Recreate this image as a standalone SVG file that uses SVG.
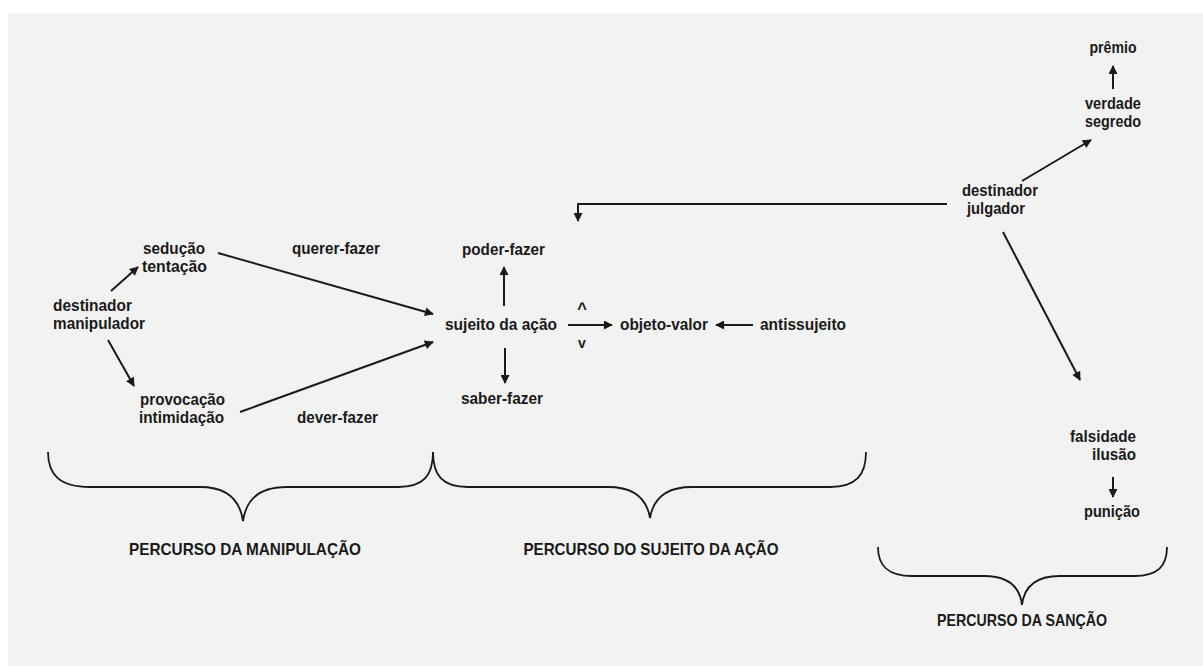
<svg xmlns="http://www.w3.org/2000/svg" width="1203" height="666" viewBox="0 0 1203 666">
<defs>
<style>
text{font-family:"Liberation Sans",Arial,sans-serif;font-weight:bold;font-size:16.5px;fill:#1a1a1a}
.c{text-anchor:middle}
.e{text-anchor:end}
.a{stroke:#1a1a1a;stroke-width:2;fill:none;marker-end:url(#ah)}
.b{stroke:#1a1a1a;stroke-width:1.8;fill:none}
</style>
<marker id="ah" viewBox="0 0 10 10" refX="9" refY="5" markerWidth="5" markerHeight="4.5" markerUnits="strokeWidth" orient="auto">
<path d="M0,0 L10,5 L0,10 z" fill="#1a1a1a"/>
</marker>
</defs>
<rect x="0" y="0" width="1203" height="666" fill="#ffffff"/>
<rect x="8" y="13" width="1195" height="653" fill="#f2f2f2"/>

<g id="connectors">
<line class="a" x1="111" y1="291" x2="138" y2="267"/>
<line class="a" x1="108" y1="340" x2="134" y2="386"/>
<line class="a" x1="218" y1="253" x2="433" y2="314"/>
<line class="a" x1="240" y1="412" x2="433" y2="342"/>
<line class="a" x1="504" y1="306" x2="504" y2="267"/>
<line class="a" x1="505" y1="348" x2="505" y2="383"/>
<line class="a" x1="568" y1="325" x2="612" y2="325"/>
<line class="a" x1="753" y1="325" x2="716" y2="325"/>
<polyline class="a" points="947,204 578,204 578,221"/>
<line class="a" x1="1022" y1="181" x2="1091" y2="140"/>
<line class="a" x1="1113" y1="89" x2="1113" y2="66"/>
<line class="a" x1="1003" y1="232" x2="1080" y2="380"/>
<line class="a" x1="1113" y1="477" x2="1113" y2="497"/>
</g>

<g id="braces">
<path class="b" d="M48,452 C48,475 60,487 90,487 L200,487 C228,487 240,500 243,521 C246,500 258,487 286,487 L398,487 C424,487 433,475 433,452"/>
<path class="b" d="M433,452 C433,475 442,487 468,487 L608,487 C636,487 647,500 650,518 C653,500 664,487 692,487 L830,487 C856,487 866,475 866,452"/>
<path class="b" d="M878,547 C878,566 888,576 912,576 L984,576 C1010,576 1020,588 1022,605 C1024,588 1034,576 1060,576 L1134,576 C1158,576 1167,566 1167,547"/>
</g>

<g id="n-destinador-manipulador"><text x="53" y="311" textLength="79" lengthAdjust="spacingAndGlyphs">destinador</text><text x="53" y="329" textLength="92" lengthAdjust="spacingAndGlyphs">manipulador</text></g>
<g id="n-seducao"><text x="143" y="254" textLength="62" lengthAdjust="spacingAndGlyphs">sedução</text><text x="142" y="272" textLength="65" lengthAdjust="spacingAndGlyphs">tentação</text></g>
<g id="n-provocacao"><text x="140" y="405" textLength="85" lengthAdjust="spacingAndGlyphs">provocação</text><text x="139" y="423" textLength="85" lengthAdjust="spacingAndGlyphs">intimidação</text></g>
<g id="n-querer"><text x="292" y="254" textLength="88" lengthAdjust="spacingAndGlyphs">querer-fazer</text></g>
<g id="n-dever"><text x="297" y="423" textLength="81" lengthAdjust="spacingAndGlyphs">dever-fazer</text></g>
<g id="n-sujeito"><text x="445" y="330" textLength="112" lengthAdjust="spacingAndGlyphs">sujeito da ação</text></g>
<g id="n-poder"><text x="462" y="255" textLength="83" lengthAdjust="spacingAndGlyphs">poder-fazer</text></g>
<g id="n-saber"><text x="461" y="404" textLength="82" lengthAdjust="spacingAndGlyphs">saber-fazer</text></g>
<g id="n-conj"><text class="c" x="582" y="314">^</text><text class="c" x="582" y="348" style="font-size:14px">v</text></g>
<g id="n-objeto"><text x="620" y="330" textLength="88" lengthAdjust="spacingAndGlyphs">objeto-valor</text></g>
<g id="n-antissujeito"><text x="760" y="330" textLength="86" lengthAdjust="spacingAndGlyphs">antissujeito</text></g>
<g id="n-destinador-julgador"><text class="c" x="1000" y="196" textLength="76" lengthAdjust="spacingAndGlyphs">destinador</text><text class="c" x="996" y="214" textLength="58" lengthAdjust="spacingAndGlyphs">julgador</text></g>
<g id="n-premio"><text class="c" x="1113" y="53" textLength="47" lengthAdjust="spacingAndGlyphs">prêmio</text></g>
<g id="n-verdade"><text class="c" x="1113" y="109" textLength="56" lengthAdjust="spacingAndGlyphs">verdade</text><text class="c" x="1113" y="127" textLength="56" lengthAdjust="spacingAndGlyphs">segredo</text></g>
<g id="n-falsidade"><text class="e" x="1136" y="442" textLength="66" lengthAdjust="spacingAndGlyphs">falsidade</text><text class="e" x="1136" y="460" textLength="44" lengthAdjust="spacingAndGlyphs">ilusão</text></g>
<g id="n-punicao"><text class="c" x="1112" y="517" textLength="56" lengthAdjust="spacingAndGlyphs">punição</text></g>
<g id="labels">
<text class="c" x="245" y="555" textLength="232" lengthAdjust="spacingAndGlyphs">PERCURSO DA MANIPULAÇÃO</text>
<text class="c" x="651" y="555" textLength="255" lengthAdjust="spacingAndGlyphs">PERCURSO DO SUJEITO DA AÇÃO</text>
<text class="c" x="1022" y="626" textLength="170" lengthAdjust="spacingAndGlyphs">PERCURSO DA SANÇÃO</text>
</g>
</svg>
